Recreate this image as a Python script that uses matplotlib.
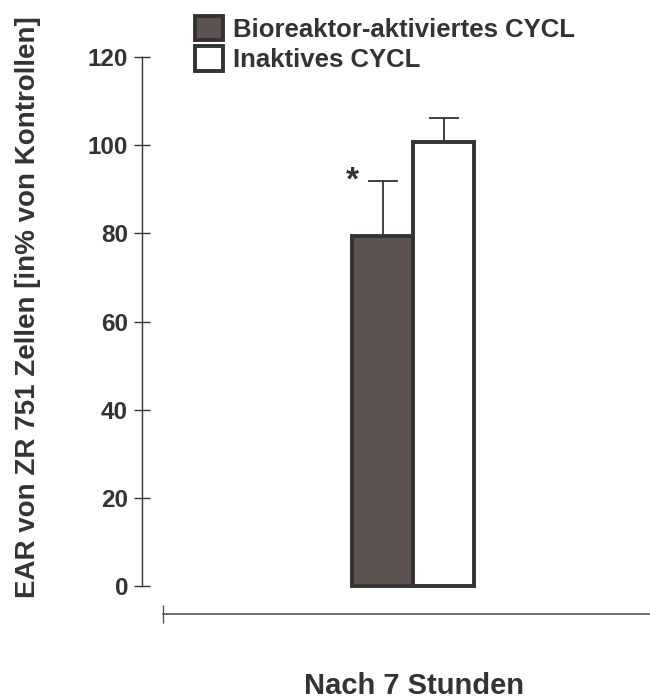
import matplotlib
matplotlib.use("Agg")
import matplotlib.pyplot as plt
from matplotlib.patches import Patch

# data
group = "Nach 7 Stunden"
series = ["Bioreaktor-aktiviertes CYCL", "Inaktives CYCL"]
means = [79.4, 100.7]
errors = [12.5, 5.4]
colors = ["#5c524f", "#ffffff"]
stars = ["*", ""]
yticks = [0, 20, 40, 60, 80, 100, 120]

ink = "#333333"
plt.rcParams["font.family"] = ["Liberation Sans", "DejaVu Sans"]
plt.rcParams["font.weight"] = "bold"

fig = plt.figure(figsize=(6.5, 7), dpi=100)
W, H = 650, 700
ax = fig.add_axes([142 / W, (H - 614) / H, (650 - 142) / W, (614 - 57) / H])

unit = 254.0  # px per x unit
ax.set_xlim((142 - 413) / unit, (650 - 413) / unit)
ax.set_ylim(-6.35, 120)

width = 61 / unit
for i, (m, e, c, s) in enumerate(zip(means, errors, colors, stars)):
    x = (i - 0.5) * width
    ax.errorbar([x], [m], yerr=[[0], [e]], fmt="none", ecolor=ink,
                elinewidth=1.3, capsize=11, capthick=1.3, zorder=2)
    ax.bar([x], [m], width=width, color=c, edgecolor=ink, linewidth=2.8,
           zorder=3)
    if s:
        ax.text(x - 0.12, m + e, s, ha="center", va="center", fontsize=24,
                fontweight="bold", color=ink)

for side in ["top", "right"]:
    ax.spines[side].set_visible(False)
ax.spines["left"].set_bounds(0, 120)
ax.spines["left"].set_color(ink)
ax.spines["left"].set_linewidth(1)
ax.spines["bottom"].set_bounds((163 - 413) / unit, ax.get_xlim()[1])
ax.spines["bottom"].set_color("#555555")
ax.spines["bottom"].set_linewidth(1.2)

ax.set_yticks(yticks)
ax.set_yticklabels([str(t) for t in yticks], fontsize=17.5, fontweight="bold",
                   color=ink)
ax.tick_params(axis="y", direction="inout", length=12, width=1, color=ink,
               pad=4)
ax.set_xticks([(163 - 413) / unit])
ax.set_xticklabels([""])
ax.tick_params(axis="x", direction="inout", length=13, width=1,
               color="#555555")

ax.set_xlabel(group, fontsize=21, fontweight="bold", color=ink)
ax.xaxis.set_label_coords((414 - 142) / (650 - 142), -0.104)
ax.set_ylabel("EAR von ZR 751 Zellen [in% von Kontrollen]", fontsize=20,
              fontweight="bold", color=ink)
ax.yaxis.set_label_coords(-0.199, 0.551)

handles = [Patch(facecolor=c, edgecolor=ink, linewidth=2.8) for c in colors]
fig.legend(handles, series, loc="upper left",
           bbox_to_anchor=(195 / W, 1 - 16 / H), frameon=False,
           prop={"size": 18.5, "weight": "bold"}, labelcolor=ink,
           handlelength=1.09, handleheight=1.09, handletextpad=0.39,
           labelspacing=0.16, borderpad=0, borderaxespad=0)

fig.savefig("out.png", dpi=100)
